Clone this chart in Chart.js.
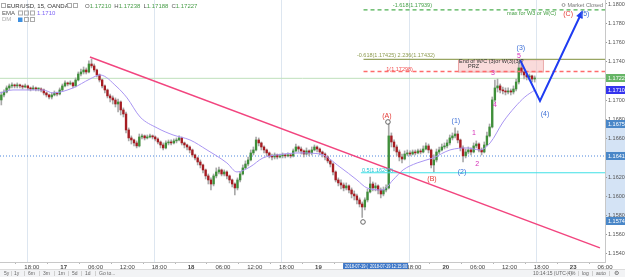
<!DOCTYPE html>
<html><head><meta charset="utf-8">
<script src="https://cdn.jsdelivr.net/npm/chart.js@4.4.1/dist/chart.umd.min.js"></script>
<style>
html,body{margin:0;padding:0;background:#fff;width:625px;height:277px;overflow:hidden;}
canvas{display:block;}
</style></head><body>
<canvas id="c" width="625" height="277"></canvas>
<script>
// ---------- DATA (EUR/USD, 30-min bars from 2018-07-16 12:00) ----------
const firstOpen = 1.17002;
const closes = [
1.17054,1.17085,1.17127,1.17148,1.17158,1.17148,1.17158,1.17148,1.17137,1.17148,
1.17127,1.17116,1.17127,1.17116,1.17116,1.17106,1.17075,1.17054,1.17033,1.17054,
1.17075,1.17064,1.17106,1.17148,1.17179,1.17168,1.17179,1.17148,1.17210,1.17272,
1.17293,1.17314,1.17293,1.17376,1.17356,1.17314,1.17262,1.17210,1.17148,1.17106,
1.17044,1.17023,1.17002,1.16960,1.16981,1.16898,1.16856,1.16690,1.16607,1.16586,
1.16555,1.16524,1.16617,1.16628,1.16607,1.16617,1.16628,1.16617,1.16596,1.16565,
1.16534,1.16503,1.16555,1.16565,1.16555,1.16576,1.16586,1.16607,1.16555,1.16534,
1.16513,1.16482,1.16430,1.16399,1.16357,1.16326,1.16274,1.16212,1.16170,1.16128,
1.16212,1.16253,1.16274,1.16232,1.16253,1.16212,1.16170,1.16128,1.16087,1.16170,
1.16232,1.16295,1.16336,1.16378,1.16451,1.16482,1.16586,1.16555,1.16513,1.16482,
1.16451,1.16420,1.16409,1.16430,1.16409,1.16420,1.16430,1.16420,1.16430,1.16420,
1.16472,1.16513,1.16492,1.16472,1.16440,1.16472,1.16451,1.16482,1.16513,1.16492,
1.16461,1.16440,1.16409,1.16368,1.16336,1.16253,1.16170,1.16139,1.16118,1.16087,
1.16108,1.16066,1.16024,1.16004,1.15962,1.15920,1.15889,1.15962,1.16045,1.16128,
1.16087,1.16108,1.16066,1.16024,1.16066,1.16087,1.16628,1.16565,1.16513,1.16461,
1.16409,1.16388,1.16440,1.16451,1.16440,1.16461,1.16451,1.16472,1.16461,1.16492,
1.16524,1.16482,1.16326,1.16378,1.16461,1.16482,1.16513,1.16524,1.16555,1.16607,
1.16628,1.16648,1.16586,1.16503,1.16420,1.16461,1.16482,1.16461,1.16524,1.16544,
1.16482,1.16461,1.16534,1.16628,1.16721,1.17002,1.17127,1.17148,1.17106,1.17096,
1.17085,1.17096,1.17085,1.17116,1.17189,1.17335,1.17293,1.17262,1.17241,1.17252,
1.17220,1.17227];
const highs = [
1.17085,1.17106,1.17148,1.17168,1.17179,1.17168,1.17179,1.17168,1.17158,1.17168,
1.17158,1.17137,1.17148,1.17137,1.17127,1.17127,1.17116,1.17085,1.17064,1.17075,
1.17096,1.17085,1.17127,1.17168,1.17200,1.17189,1.17200,1.17189,1.17231,1.17293,
1.17324,1.17345,1.17335,1.17408,1.17428,1.17376,1.17324,1.17272,1.17220,1.17158,
1.17116,1.17064,1.17044,1.17023,1.17012,1.16992,1.16919,1.16877,1.16711,1.16628,
1.16596,1.16576,1.16648,1.16648,1.16638,1.16638,1.16648,1.16638,1.16628,1.16607,
1.16576,1.16555,1.16576,1.16586,1.16586,1.16596,1.16607,1.16628,1.16617,1.16565,
1.16544,1.16524,1.16492,1.16440,1.16409,1.16378,1.16336,1.16284,1.16232,1.16191,
1.16232,1.16295,1.16305,1.16284,1.16274,1.16264,1.16222,1.16180,1.16139,1.16191,
1.16253,1.16326,1.16368,1.16409,1.16482,1.16513,1.16617,1.16607,1.16565,1.16524,
1.16492,1.16461,1.16440,1.16451,1.16440,1.16440,1.16451,1.16440,1.16451,1.16440,
1.16492,1.16544,1.16524,1.16513,1.16482,1.16503,1.16482,1.16513,1.16534,1.16524,
1.16503,1.16472,1.16451,1.16420,1.16378,1.16347,1.16264,1.16191,1.16170,1.16139,
1.16139,1.16118,1.16087,1.16056,1.16024,1.15983,1.15941,1.15983,1.16076,1.16201,
1.16149,1.16139,1.16118,1.16087,1.16097,1.16118,1.16754,1.16659,1.16586,1.16534,
1.16482,1.16440,1.16472,1.16482,1.16472,1.16482,1.16482,1.16492,1.16492,1.16524,
1.16555,1.16544,1.16492,1.16430,1.16492,1.16513,1.16544,1.16555,1.16586,1.16638,
1.16659,1.16711,1.16680,1.16596,1.16524,1.16492,1.16513,1.16503,1.16555,1.16576,
1.16555,1.16503,1.16565,1.16669,1.16752,1.17033,1.17210,1.17220,1.17168,1.17137,
1.17127,1.17127,1.17116,1.17148,1.17220,1.17400,1.17376,1.17304,1.17283,1.17272,
1.17262,1.17252];
const lows = [
1.16950,1.17033,1.17075,1.17106,1.17127,1.17127,1.17127,1.17127,1.17116,1.17127,
1.17106,1.17096,1.17106,1.17096,1.17096,1.17085,1.17054,1.17033,1.17012,1.17012,
1.17044,1.17044,1.17054,1.17096,1.17137,1.17148,1.17158,1.17127,1.17137,1.17200,
1.17252,1.17272,1.17272,1.17283,1.17335,1.17293,1.17241,1.17189,1.17127,1.17075,
1.17023,1.16981,1.16960,1.16929,1.16877,1.16846,1.16825,1.16659,1.16576,1.16544,
1.16524,1.16503,1.16513,1.16596,1.16586,1.16596,1.16607,1.16596,1.16576,1.16544,
1.16503,1.16482,1.16492,1.16534,1.16534,1.16544,1.16555,1.16576,1.16534,1.16503,
1.16482,1.16451,1.16409,1.16378,1.16326,1.16295,1.16243,1.16180,1.16128,1.16066,
1.16108,1.16191,1.16232,1.16212,1.16212,1.16180,1.16139,1.16097,1.16014,1.16066,
1.16149,1.16222,1.16284,1.16316,1.16368,1.16430,1.16472,1.16524,1.16482,1.16451,
1.16420,1.16399,1.16378,1.16388,1.16388,1.16399,1.16399,1.16399,1.16409,1.16399,
1.16409,1.16461,1.16461,1.16440,1.16409,1.16430,1.16420,1.16430,1.16472,1.16461,
1.16430,1.16409,1.16378,1.16347,1.16305,1.16222,1.16149,1.16108,1.16076,1.16056,
1.16066,1.16035,1.15983,1.15962,1.15920,1.15889,1.15780,1.15858,1.15941,1.16035,
1.16056,1.16056,1.16024,1.15983,1.16004,1.16045,1.16076,1.16513,1.16472,1.16420,
1.16368,1.16347,1.16378,1.16420,1.16420,1.16430,1.16430,1.16440,1.16440,1.16451,
1.16482,1.16451,1.16295,1.16253,1.16357,1.16440,1.16472,1.16492,1.16503,1.16534,
1.16586,1.16607,1.16555,1.16472,1.16357,1.16399,1.16440,1.16430,1.16451,1.16503,
1.16461,1.16430,1.16451,1.16524,1.16617,1.16711,1.16981,1.17085,1.17075,1.17064,
1.17054,1.17064,1.17054,1.17064,1.17096,1.17168,1.17262,1.17220,1.17210,1.17210,
1.17189,1.17188];

// EMA (bar index, price)
const emaIdx = [0,4.9,10.2,16.2,20,27.5,33.9,37.7,44.1,47.9,52.8,59.2,65.2,71.6,78,85.5,89.3,94.2,99.1,104.4,113.1,120.6,128.1,134.5,138.3,144.3,148.1,151.9,157.2,163.2,169.6,176,180.9,184.7,189.6,194.1,197.8,201.6];
const emaVal = [1.17075,1.17106,1.17106,1.17106,1.17075,1.17127,1.17220,1.17262,1.17137,1.17023,1.16825,1.16711,1.16638,1.16586,1.16482,1.16347,1.16253,1.16305,1.16399,1.16430,1.16451,1.16440,1.16305,1.16170,1.16087,1.16066,1.16170,1.16274,1.16347,1.16399,1.16482,1.16503,1.16482,1.16555,1.16773,1.16929,1.17033,1.17106];

// axis ticks
const xTickIdx = [12,24,36,48,60,72,84,96,108,120,132,144,156,168,180,192,204,216,228];
const xTickLabels = ['18:00','17','06:00','12:00','18:00','18','06:00','12:00','18:00','19','06:00','12:00','18:00','20','06:00','12:00','18:00','23','06:00'];
const dayLabels = ['17','18','19','20','23'];
const yTicks = [1.154,1.156,1.158,1.160,1.162,1.164,1.166,1.168,1.170,1.172,1.174,1.176,1.178,1.180];
const sessionIdx = [10,58,106,154,202];

// drawings
const trendIdx = [33.9,226.1], trendPrice = [1.17449,1.15463];
const arrowIdx = [196.0,203.5,219.3], arrowPrice = [1.17418,1.16992,1.17917];
const lastPrice = 1.17227, dottedLevel = 1.16419;
const fibVals = [1.17939,1.17425,1.17298];
const fibTexts = ['-1.618(1.17939)','-0.618(1.17425) 2.236(1.17432)','1(1.17298)'];
const fibTextEndIdx = [162.8,163.9,155.6];
const fibStartIdx = 137;
const halfVal = 1.16245, halfText = '0.5(1.16245)', halfStartIdx = 136;
const przIdx = [172.6,204.6], przPrice = [1.17425,1.17298];
const redWave = ['(A)','(B)','(C)'], redIdx = [145.8,162.8,214.1], redPrice = [1.16836,1.16180,1.17896];
const blueWave = ['(1)','(2)','(3)','(4)','(5)'], blueIdx = [171.8,174.1,196.3,205.4,220.5], bluePrice = [1.16784,1.16253,1.17543,1.16856,1.17896];
const subWave = ['1','2','3','4','5'], subIdx = [178.6,179.8,185.8,186.5,195.6], subPrice = [1.16659,1.16336,1.17283,1.16950,1.17460];
const circleIdx = [146.2,136.8], circlePrice = [1.16773,1.15733];
const maxNoteIdx = 191.1, maxNotePrice = 1.17906;
const axisMarkVals = [1.17227,1.17104,1.16754,1.16419,1.15746];
const rangeHi = 1.16754, rangeLo = 1.15746;
const selStartIdx = 129.3, selEndIdx = 153.8;

// ---------- derived structures ----------
const opens = closes.map((c,i)=> i===0 ? firstOpen : closes[i-1]);
const wickData = closes.map((c,i)=>({x:i+0.5, y:[lows[i], highs[i]]}));
const bodyData = closes.map((c,i)=>({x:i+0.5, y:[opens[i], c]}));
const emaData = emaIdx.map((v,i)=>({x:v, y:emaVal[i]}));
const XMAX = 228;
const hline = (v, a) => [{x:a, y:v},{x:XMAX, y:v}];

const FF = '"Liberation Sans", Arial, "DejaVu Sans", sans-serif';
const F = (s,w) => (w||'normal') + ' ' + s + 'px ' + FF;
const UP = '#3f8f3a', DOWN = '#a61c22';

const annot = {
  id:'annot',
  beforeDraw(chart){
    const {ctx, chartArea} = chart; const ys = chart.scales.y;
    ctx.save();
    ctx.fillStyle = '#d4e3f5';
    const a = ys.getPixelForValue(rangeHi), b = ys.getPixelForValue(rangeLo);
    ctx.fillRect(chartArea.right+1, a, 625-chartArea.right, b-a);
    ctx.restore();
  },
  beforeDatasetsDraw(chart){
    const {ctx, chartArea} = chart; const xs = chart.scales.x, ys = chart.scales.y;
    ctx.save();
    ctx.strokeStyle = '#dde6f0'; ctx.lineWidth = 1;
    sessionIdx.forEach(v=>{ const x = Math.round(xs.getPixelForValue(v))+0.5;
      ctx.beginPath(); ctx.moveTo(x, chartArea.top); ctx.lineTo(x, chartArea.bottom); ctx.stroke(); });
    const x1 = xs.getPixelForValue(przIdx[0]), x2 = xs.getPixelForValue(przIdx[1]);
    const y1 = ys.getPixelForValue(przPrice[0]), y2 = ys.getPixelForValue(przPrice[1]);
    ctx.fillStyle = 'rgba(245,190,190,0.55)';
    ctx.fillRect(x1, y1, x2-x1, y2-y1);
    ctx.strokeStyle = '#eaa6a6'; ctx.strokeRect(x1+0.5, y1+0.5, x2-x1, y2-y1);
    ctx.restore();
  },
  afterDatasetsDraw(chart){
    const {ctx, chartArea} = chart; const xs = chart.scales.x, ys = chart.scales.y;
    const X = v => xs.getPixelForValue(v), Y = v => ys.getPixelForValue(v);
    ctx.save();
    // arrow head
    const n = arrowIdx.length;
    const px = X(arrowIdx[n-1]), py = Y(arrowPrice[n-1]);
    const qx = X(arrowIdx[n-2]), qy = Y(arrowPrice[n-2]);
    const ang = Math.atan2(py-qy, px-qx);
    ctx.fillStyle = '#1f3cf2';
    ctx.beginPath();
    ctx.moveTo(px+Math.cos(ang)*2, py+Math.sin(ang)*2);
    ctx.lineTo(px-Math.cos(ang)*6+Math.sin(ang)*3.5, py-Math.sin(ang)*6-Math.cos(ang)*3.5);
    ctx.lineTo(px-Math.cos(ang)*6-Math.sin(ang)*3.5, py-Math.sin(ang)*6+Math.cos(ang)*3.5);
    ctx.closePath(); ctx.fill();
    // fib labels
    ctx.textBaseline = 'middle';
    ctx.font = F(5.5);
    const fibCol = ['#43a047','#8c9a4e','#f24b4b'];
    const fibOff = [4.5,3.5,2.5];
    fibVals.forEach((v,i)=>{ ctx.fillStyle = fibCol[i]; ctx.textAlign = 'right';
      ctx.fillText(fibTexts[i], X(fibTextEndIdx[i]), Y(v)-fibOff[i]); });
    ctx.textAlign = 'left'; ctx.fillStyle = '#22c4d6';
    ctx.fillText(halfText, X(halfStartIdx)+1, Y(halfVal)-2.5);
    // PRZ text
    ctx.fillStyle = '#333';
    ctx.fillText('End of W/C (3)or W(3)(3)?', X(przIdx[0])+1, Y(przPrice[0])+2.5);
    ctx.fillText('PRZ', X(przIdx[0])+10, Y(przPrice[0])+7.5);
    // max note
    ctx.fillStyle = '#3d9b3d';
    ctx.fillText('max for W3 or W(C)', X(maxNoteIdx), Y(maxNotePrice));
    // Market closed
    ctx.fillStyle = '#777'; ctx.textAlign = 'right';
    ctx.fillText('Market Closed', chartArea.right-2, 5);
    ctx.strokeStyle = '#999'; ctx.beginPath(); ctx.arc(chartArea.right-2-ctx.measureText('Market Closed').width-4, 5, 1.5, 0, Math.PI*2); ctx.stroke();
    // wave labels
    ctx.textAlign = 'center';
    ctx.font = F(7);
    ctx.fillStyle = '#e53935';
    redWave.forEach((t,i)=>ctx.fillText(t, X(redIdx[i]), Y(redPrice[i])));
    ctx.fillStyle = '#3d6fd6';
    blueWave.forEach((t,i)=>ctx.fillText(t, X(blueIdx[i]), Y(bluePrice[i])));
    ctx.fillStyle = '#d52fb8';
    subWave.forEach((t,i)=>ctx.fillText(t, X(subIdx[i]), Y(subPrice[i])));
    ctx.strokeStyle = '#666'; ctx.lineWidth = 1;
    circleIdx.forEach((v,i)=>{ ctx.beginPath(); ctx.arc(X(v), Y(circlePrice[i]), 2.3, 0, Math.PI*2); ctx.stroke(); });
    ctx.restore();
  },
  afterDraw(chart){
    const {ctx, chartArea} = chart; const xs = chart.scales.x, ys = chart.scales.y;
    ctx.save();
    ctx.textBaseline = 'middle'; ctx.textAlign = 'left';
    // legend rows
    ctx.strokeStyle = '#aaa'; ctx.lineWidth = 1;
    ctx.strokeRect(1.5, 3.5, 4, 4);
    ctx.font = F(6); ctx.fillStyle = '#333';
    ctx.fillText('EUR/USD, 15, OANDA', 7, 6);
    [67,73].forEach(x=>ctx.strokeRect(x+0.5, 3.5, 4, 4));
    const ohlc = [['O','1.17210'],['H','1.17238'],['L','1.17188'],['C','1.17227']];
    let x = 85;
    ohlc.forEach(p=>{ ctx.fillStyle = '#555'; ctx.fillText(p[0], x, 6); x += ctx.measureText(p[0]).width;
      ctx.fillStyle = '#4a9e4a'; ctx.fillText(p[1], x, 6); x += ctx.measureText(p[1]).width + 3; });
    ctx.fillStyle = '#555'; ctx.fillText('EMA', 2, 13);
    [18,24,30].forEach(x=>ctx.strokeRect(x+0.5, 11, 4, 4));
    ctx.fillStyle = '#7d63f5'; ctx.fillText('1.1710', 37, 13);
    ctx.fillStyle = '#aaa'; ctx.fillText('DM', 2, 19.5);
    ctx.fillStyle = '#3d8fe0'; ctx.fillRect(18, 17.5, 4.5, 4.5);
    [24,30].forEach(x=>ctx.strokeRect(x+0.5, 17.5, 4, 4));
    // right axis price marks
    const markBg = ['#66b566','#3434ee','#4a87c8','#4a87c8','#4a87c8'];
    ctx.font = F(5.5);
    axisMarkVals.forEach((v,i)=>{ const y = ys.getPixelForValue(v);
      ctx.fillStyle = markBg[i]; ctx.fillRect(chartArea.right+1, Math.round(y)-4, 625-chartArea.right, 8);
      ctx.fillStyle = '#fff'; ctx.fillText(v.toFixed(5), chartArea.right+3, Math.round(y)); });
    // date selection label on x axis
    const s1 = xs.getPixelForValue(selStartIdx), s2 = xs.getPixelForValue(selEndIdx);
    ctx.fillStyle = '#3f78c8'; ctx.fillRect(s1, chartArea.bottom+1, s2-s1, 7);
    ctx.fillStyle = '#fff'; ctx.font = F(5);
    ctx.fillText('2018-07-19 (  2018-07-19 12:15:00', s1+2, chartArea.bottom+4.5, s2-s1-3);
    // bottom toolbar
    ctx.fillStyle = '#f2f3f5'; ctx.fillRect(0, 269, 625, 8);
    ctx.fillStyle = '#dcdcdc'; ctx.fillRect(0, 269, 625, 1);
    ctx.font = F(5); ctx.fillStyle = '#666';
    const L = ['5y','1y','6m','3m','1m','5d','1d','Go to...'], Lx = [4,14,28,43,58,72,85,99];
    L.forEach((t,i)=>ctx.fillText(t, Lx[i], 273.5));
    const R = ['10:14:15 (UTC-4)','%','log','auto'], Rx = [533,571,582,596];
    R.forEach((t,i)=>ctx.fillText(t, Rx[i], 273.5));
    ctx.font = '6px "DejaVu Sans"'; ctx.fillText('⚙', 614, 273.5);
    ctx.fillStyle = '#d0d0d0';
    [11,24,39,54,68,81,95,567,578,592,609].forEach(x=>ctx.fillRect(x, 271, 1, 5));
    ctx.restore();
  }
};

new Chart(document.getElementById('c'), {
  type:'bar',
  data:{ datasets:[
    {type:'line', data:hline(lastPrice,0), borderColor:'#bfe0bb', borderWidth:1, pointRadius:0, order:9},
    {type:'line', data:hline(dottedLevel,0), borderColor:'#4d86dc', borderWidth:1, borderDash:[1,2], pointRadius:0, order:9},
    {type:'bar', data:wickData, backgroundColor:'#a9a9a9', barThickness:1, grouped:false, order:7},
    {type:'bar', data:bodyData, backgroundColor:c=>closes[c.dataIndex]>=opens[c.dataIndex]?UP:DOWN,
      barThickness:1.7, minBarLength:1, grouped:false, order:6},
    {type:'line', data:emaData, borderColor:'#a995f2', borderWidth:1, pointRadius:0, cubicInterpolationMode:'monotone', order:5},
    {type:'line', data:hline(fibVals[0],fibStartIdx), borderColor:'#4caf50', borderWidth:1.2, borderDash:[4,3], pointRadius:0, order:4},
    {type:'line', data:hline(fibVals[1],fibStartIdx), borderColor:'#98a562', borderWidth:1.2, pointRadius:0, order:4},
    {type:'line', data:hline(fibVals[2],fibStartIdx), borderColor:'#ff6b6b', borderWidth:1.6, borderDash:[4,3], pointRadius:0, order:4},
    {type:'line', data:hline(halfVal,halfStartIdx), borderColor:'#3fe0e6', borderWidth:1.2, pointRadius:0, order:4},
    {type:'line', data:trendIdx.map((v,i)=>({x:v,y:trendPrice[i]})), borderColor:'#f2457f', borderWidth:1.4, pointRadius:0, order:2},
    {type:'line', data:arrowIdx.map((v,i)=>({x:v,y:arrowPrice[i]})), borderColor:'#1f3cf2', borderWidth:2, pointRadius:0, order:1}
  ]},
  options:{
    responsive:false, animation:false, devicePixelRatio:1,
    layout:{padding:{left:0,right:0,top:0,bottom:8}},
    plugins:{legend:{display:false}, tooltip:{enabled:false}},
    scales:{
      x:{type:'linear', min:0, max:XMAX, offset:false, position:'bottom',
        grid:{drawOnChartArea:false, tickLength:2, color:'#b5b5b5'},
        border:{color:'#c8c8c8'},
        ticks:{autoSkip:false, maxRotation:0, minRotation:0, padding:0, color:'#444',
          font:c=>({family:FF, size:6, weight: (c.tick && dayLabels.includes(xTickLabels[xTickIdx.indexOf(c.tick.value)])) ? 'bold':'normal'}),
          callback:(v,i)=>xTickLabels[i]},
        afterBuildTicks:s=>{ s.ticks = xTickIdx.map(v=>({value:v})); },
        afterFit:s=>{ s.height = 7; s.paddingLeft = 0; s.paddingRight = 0; }
      },
      y:{type:'linear', position:'right', min:1.153166, max:1.180416,
        grid:{drawOnChartArea:false, tickLength:2, color:'#999'},
        border:{color:'#c8c8c8'},
        ticks:{padding:1, color:'#555', font:{family:FF, size:5.5}, callback:v=>v.toFixed(5)},
        afterBuildTicks:s=>{ s.ticks = yTicks.map(v=>({value:v})); },
        afterFit:s=>{ s.width = 20; s.paddingTop = 0; s.paddingBottom = 0; }
      }
    }
  },
  plugins:[annot]
});
</script>
</body></html>
